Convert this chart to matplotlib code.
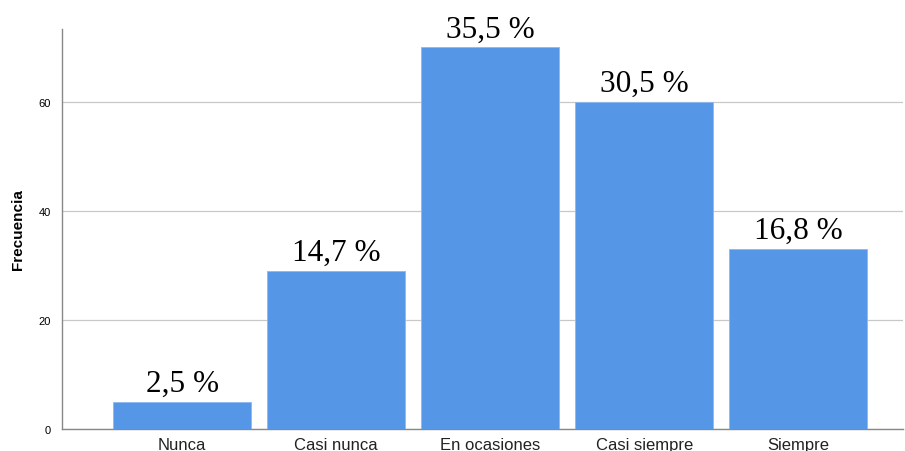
import matplotlib
matplotlib.use("Agg")
import matplotlib.pyplot as plt

categorias = ["Nunca", "Casi nunca", "En ocasiones", "Casi siempre", "Siempre"]
frecuencia = [5, 29, 70, 60, 33]
porcentajes = ["2,5 %", "14,7 %", "35,5 %", "30,5 %", "16,8 %"]
y_ticks = [0, 20, 40, 60]

fig = plt.figure(figsize=(9.05, 4.52), dpi=100)
ax = fig.add_axes([0.0685, 0.0487, 0.9295, 0.885])

x = list(range(len(categorias)))
bars = ax.bar(x, frecuencia, width=0.896, color="#5596E6",
              edgecolor="#8DB8EE", linewidth=0.6, zorder=3)

for b, lab in zip(bars, porcentajes):
    ax.annotate(lab, (b.get_x() + b.get_width() / 2, b.get_height()),
                xytext=(0, 3), textcoords="offset points",
                ha="center", va="bottom", fontsize=22.5,
                family="Liberation Serif", color="black")

ax.set_xlim(-0.78, 4.68)
ax.set_ylim(0, 73.4)
ax.set_yticks(y_ticks)
ax.set_yticklabels([str(v) for v in y_ticks], fontsize=8, family="Liberation Sans")
ax.set_xticks(x)
ax.set_xticklabels(categorias, fontsize=12, family="Liberation Sans", color="#222222")
ax.tick_params(axis="y", length=0, pad=8)
ax.tick_params(axis="x", length=0, pad=6)

ax.grid(axis="y", color="#C8C8C8", linewidth=0.9, zorder=0)
ax.set_ylabel("Frecuencia", fontsize=11, fontweight="bold",
              family="Liberation Sans", labelpad=10)

for s in ["top", "right"]:
    ax.spines[s].set_visible(False)
ax.spines["left"].set_color("#888888")
ax.spines["bottom"].set_color("#888888")
ax.spines["left"].set_linewidth(1.0)
ax.spines["bottom"].set_linewidth(1.0)

fig.savefig("out.png", dpi=100)
